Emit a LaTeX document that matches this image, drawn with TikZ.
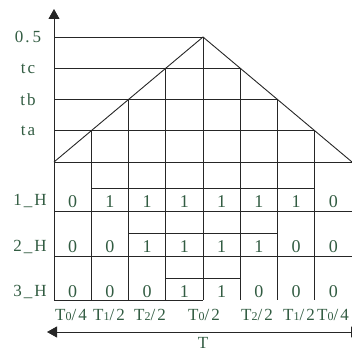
\documentclass[tikz,border=0pt]{standalone}
\usepackage{fontspec}
\setmainfont{Liberation Serif}
\newfontfamily\lblfont[LetterSpace=12]{Liberation Serif}
\usetikzlibrary{positioning, arrows.meta, calc}
\definecolor{lblgreen}{RGB}{50,92,66}
\tikzset{>={Triangle[width=11pt,length=10pt]}}
\tikzset{
    grid/.style = {draw=black!85, line width=0.9pt},
    level/.style = {text=lblgreen, font=\lblfont\fontsize{17}{19}\selectfont, inner sep=0pt},
    bit/.style = {text=lblgreen, font=\fontsize{18}{20}\selectfont, inner sep=0pt},
    period/.style = {text=lblgreen, font=\lblfont\fontsize{17}{19}\selectfont, inner sep=0pt}
}
\newcommand{\per}[2]{T{\fontsize{12}{13}\selectfont #1}/#2}

\begin{document}
\begin{tikzpicture}[x=1pt,y=-1pt]
		\useasboundingbox (0,0) rectangle (352,353);
		\foreach \i in {0,...,8} {
			\coordinate (b\i) at ({54+37.25*\i},162);
			\coordinate (d\i) at ({54+37.25*\i},300);
		}
		\foreach \i in {1,...,4} \coordinate (u\i) at ({54+37.25*\i},{162-31.25*\i});
		\foreach \i in {5,...,7} \coordinate (u\i) at ({54+37.25*\i},{162-31.25*(8-\i)});
		\coordinate (top) at (54,9);
		\draw [grid,->] (d0) to (top);
		\node (half) [level] at (28,37) {0.\,5};
		\node (tc) [level] at (28,69) {tc};
		\node (tb) [level] at (28,100) {tb};
		\node (ta) [level] at (28,131) {ta};
		\draw [grid] (54,37) -- (u4);
		\draw [grid] (54,68.25) -- (u5);
		\draw [grid] (54,99.5) -- (u6);
		\draw [grid] (54,130.75) -- (u7);
		\draw [grid] (b0) -- (b8);
		\draw [grid] (b0) -- (u4) -- (b8);
		\foreach \i in {1,...,7} \draw [grid] (u\i) -- (d\i);
		\draw [grid] (54,211) -- (352,211);
		\draw [grid] (54,256) -- (352,256);
		\draw [grid] (d0) -- (d4);
		\draw [grid] ($(b1)+(0,26)$) -- ($(b7)+(0,26)$);
		\draw [grid] ($(b2)+(0,71)$) -- ($(b6)+(0,71)$);
		\draw [grid] ($(b3)+(0,116)$) -- ($(b5)+(0,116)$);
		\node (h1) [level] at (30,201) {1\_H};
		\node (h2) [level] at (30,247) {2\_H};
		\node (h3) [level] at (30,292) {3\_H};
		\foreach \v [count=\i] in {0,1,1,1,1,1,1,0}
			\node (r1c\i) [bit] at ({35.4+37.25*\i},202) {\v};
		\foreach \v [count=\i] in {0,0,1,1,1,1,0,0}
			\node (r2c\i) [bit] at ({35.4+37.25*\i},247) {\v};
		\foreach \v [count=\i] in {0,0,0,1,1,0,0,0}
			\node (r3c\i) [bit] at ({35.4+37.25*\i},292) {\v};
		\node (p1) [period] at (71,315) {\per{0}{4}};
		\node (p2) [period] at (109,315) {\per{1}{2}};
		\node (p3) [period] at (150,315) {\per{2}{2}};
		\node (p4) [period] at (204,315) {\per{0}{2}};
		\node (p5) [period] at (257,315) {\per{2}{2}};
		\node (p6) [period] at (299,315) {\per{1}{2}};
		\node (p7) [period] at (333,315) {\per{0}{4}};
		\coordinate (tl) at (47,332);
		\coordinate (tr) at (361,332);
		\draw [grid,<->] (tl) to (tr);
		\node (T) [period] at (203,343) {T};
	\end{tikzpicture}
\end{document}
